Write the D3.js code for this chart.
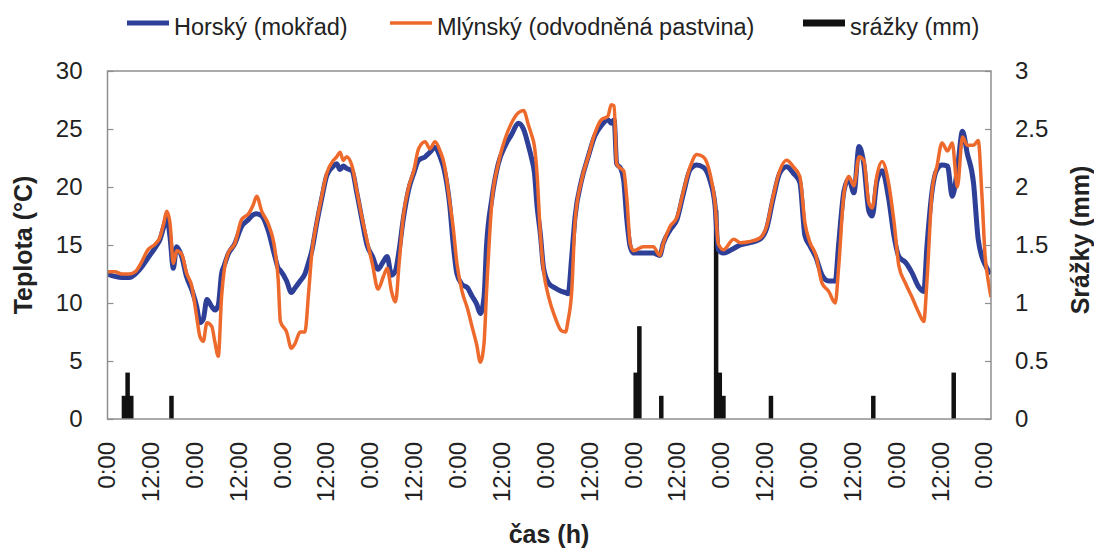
<!DOCTYPE html>
<html>
<head>
<meta charset="utf-8">
<script src="https://cdn.jsdelivr.net/npm/d3@7"></script>
<style>
  body { margin: 0; background: #fff; }
  svg { display: block; font-family: "Liberation Sans", Arial, sans-serif; }
</style>
</head>
<body>
<svg id="chart"></svg>
<script>
// time in hours from the first midnight
var hours = [0, 2, 4, 6, 7.6, 9.1, 11.1, 13.1, 14.4, 15.4,
  16.2, 17.1, 18, 18.9, 20.3, 21.6, 23.1, 24.4, 25.3, 26.2,
  27.2, 28.5, 29.4, 30.3, 31.2, 32, 33, 34.8, 36.7, 38.6,
  39.8, 40.8, 42.2, 44, 45.8, 46.7, 47.3, 49, 50.3, 51.3,
  52.7, 54, 55, 55.9, 57.2, 58.6, 60, 61.8, 62.7, 63.6,
  64.5, 65.4, 66.9, 68.2, 69.6, 71, 72.5, 74, 75.5, 76.5,
  77.7, 78.8, 79.8, 80.9, 82.4, 83.8, 85.1, 86.9, 88.2, 89.6,
  91, 92.1, 93.6, 94.6, 95.6, 97, 98.5, 99.7, 101, 102,
  103, 103.7, 105.1, 106.9, 108.7, 110.5, 112.4, 113.8, 115.2, 116,
  116.8, 117.5, 118.4, 119.3, 120.7, 122.4, 124.2, 125.3, 126, 127,
  127.9, 129.7, 131.5, 133.3, 135.1, 136.9, 137.8, 138.6, 139.3, 140.4,
  141.2, 142.1, 143, 143.9, 146.6, 149.3, 151.1, 152, 153.9, 155.8,
  157.6, 159.4, 161.2, 163, 164.8, 166.2, 167.1, 168.5, 171.3, 173.1,
  175.8, 178.5, 180.3, 182.1, 183.9, 185.8, 187.6, 189.4, 190.8, 192.2,
  193.7, 195.5, 197.3, 199.1, 200, 201.5, 202.8, 204.2, 205.6, 206.9,
  208.3, 209.2, 210.5, 211.9, 213.7, 215.2, 216.5, 218.3, 220.1, 221.9,
  223.3, 224.2, 225.6, 226.9, 228.3, 229.8, 231.1, 232.5, 233.9, 235.2,
  236.9, 238.2, 239.2, 240.1, 240.9, 241.7];

// Horský (mokřad), °C
var horsky = [12.5, 12.3, 12.2, 12.2, 12.5, 13.0, 13.9, 14.8, 15.5, 16.6,
  17.3, 15.7, 13.0, 14.85, 14.0, 12.3, 11.1, 9.7, 8.3, 8.6,
  10.3, 9.7, 9.4, 9.8, 12.5, 13.3, 14.2, 15.1, 16.6, 17.2,
  17.6, 17.7, 17.5, 16.2, 14.0, 13.0, 12.8, 11.9, 10.9, 11.3,
  11.9, 12.5, 13.5, 14.5, 16.8, 19.0, 21.0, 21.8, 22.0, 21.5,
  21.8, 21.6, 21.4, 19.5, 17.2, 15.0, 14.0, 12.9, 13.6, 14.0,
  12.4, 12.8, 14.6, 17.2, 19.8, 21.2, 22.3, 22.6, 23.0, 23.4,
  22.6, 21.5, 18.5, 15.0, 12.5, 11.6, 11.3, 10.6, 9.9, 9.1,
  10.5, 15.0, 18.9, 22.0, 23.5, 24.5, 25.5, 25.0, 23.5, 22.5,
  21.2, 18.4, 16.0, 13.0, 11.7, 11.3, 11.0, 10.9, 10.8, 14.0,
  17.4, 20.6, 22.6, 24.4, 25.3, 25.8, 25.5, 25.8, 22.0, 21.6,
  20.6, 17.1, 14.85, 14.3, 14.3, 14.3, 14.1, 15.1, 16.3, 17.2,
  19.5, 21.5, 21.9, 21.7, 20.6, 18.4, 14.6, 14.3, 14.7, 15.0,
  15.2, 15.5, 16.4, 19.0, 21.2, 21.75, 21.2, 20.4, 15.8, 14.9,
  14.0, 12.4, 11.9, 11.9, 15.0, 19.7, 20.7, 19.5, 23.5, 22.0,
  17.9, 17.5, 20.5, 21.4, 19.0, 15.7, 14.0, 13.5, 12.6, 11.4,
  11.0, 15.0, 19.7, 21.5, 21.9, 21.8, 19.2, 21.5, 24.8, 22.9,
  20.4, 15.5, 14.0, 13.3, 12.8, 12.6];

// Mlýnský (odvodněná pastvina), °C
var mlynsky = [12.7, 12.7, 12.5, 12.5, 12.7, 13.4, 14.6, 15.1, 15.7, 16.9,
  17.9, 16.9, 13.4, 14.5, 14.2, 12.6, 11.4, 8.8, 7.1, 6.7,
  8.3, 8.0, 6.6, 5.4, 10.5, 13.0, 14.3, 15.1, 17.2, 17.7,
  18.4, 19.2, 17.9, 16.8, 14.6, 12.0, 8.4, 7.5, 6.1, 6.5,
  7.5, 7.5, 10.8, 14.3, 16.9, 19.2, 21.2, 22.3, 22.6, 23.0,
  22.3, 22.6, 21.8, 19.7, 17.4, 15.4, 13.3, 11.2, 12.3, 13.0,
  11.0, 10.1, 13.5, 17.4, 20.0, 21.4, 23.3, 23.9, 23.3, 23.9,
  23.1, 22.0, 18.8, 16.4, 13.4, 11.0, 9.5, 8.0, 6.4, 4.9,
  6.5, 11.0, 18.5, 22.0, 24.1, 25.5, 26.4, 26.6, 25.3, 24.5,
  23.5, 21.2, 16.0, 12.8, 10.5, 8.8, 7.6, 7.5, 8.5, 11.0,
  17.0, 20.6, 22.6, 24.6, 25.8, 26.1, 27.1, 27.0, 22.0, 21.6,
  21.4, 18.9, 15.1, 14.5, 14.85, 14.85, 14.1, 15.1, 16.6, 17.4,
  19.7, 21.75, 22.8, 22.6, 21.2, 18.6, 15.1, 14.6, 15.5, 15.2,
  15.3, 15.6, 16.6, 19.2, 21.4, 22.3, 21.75, 20.9, 16.9, 15.2,
  14.2, 11.7, 11.0, 10.0, 13.0, 19.5, 20.9, 20.1, 22.6, 22.3,
  18.6, 18.2, 21.0, 22.2, 20.3, 16.9, 13.2, 11.7, 10.5, 9.2,
  8.4, 12.0, 19.7, 21.75, 23.8, 23.1, 23.8, 20.0, 24.3, 23.6,
  23.6, 24.0, 19.4, 14.0, 12.0, 10.5];

// srážky (mm), hourly totals
var rainHours = [4, 5, 6, 17, 144, 145, 151, 166, 167, 168, 181, 209, 231];
var rainMm = [0.2, 0.4, 0.2, 0.2, 0.4, 0.8, 0.2, 1.8, 0.4, 0.2, 0.2, 0.2, 0.4];

var tickHours = d3.range(0, 241, 12);
var seriesNames = ["Horský (mokřad)", "Mlýnský (odvodněná pastvina)", "srážky (mm)"];
var seriesColors = ["#2e3f98", "#ee6a2c", "#111111"];

var width = 1094, height = 550;
var plot = { left: 107.5, right: 991, top: 71, bottom: 419 };

var svg = d3.select("#chart").attr("width", width).attr("height", height);
svg.append("rect").attr("width", width).attr("height", height).attr("fill", "#fff");

var x = d3.scaleLinear().domain([0, 241.7]).range([plot.left, plot.right]);
var y = d3.scaleLinear().domain([0, 30]).range([plot.bottom, plot.top]);
var yR = d3.scaleLinear().domain([0, 3]).range([plot.bottom, plot.top]);

svg.append("clipPath").attr("id", "clip")
  .append("rect")
  .attr("x", plot.left).attr("y", plot.top)
  .attr("width", plot.right - plot.left).attr("height", plot.bottom - plot.top);

// rain bars
var barW = 4.5;
svg.append("g").selectAll("rect")
  .data(rainHours.map(function(h, i) { return { h: h, v: rainMm[i] }; }))
  .enter().append("rect")
  .attr("x", function(d) { return x(d.h + 0.5) - barW / 2; })
  .attr("y", function(d) { return yR(d.v); })
  .attr("width", barW)
  .attr("height", function(d) { return yR(0) - yR(d.v); })
  .attr("fill", seriesColors[2]);

// temperature lines
var line = d3.line()
  .curve(d3.curveMonotoneX)
  .x(function(d) { return x(d[0]); })
  .y(function(d) { return y(d[1]); });

var g = svg.append("g").attr("clip-path", "url(#clip)");
g.append("path")
  .datum(hours.map(function(h, i) { return [h, horsky[i]]; }))
  .attr("d", line)
  .attr("fill", "none")
  .attr("stroke", seriesColors[0])
  .attr("stroke-width", 5)
  .attr("stroke-linejoin", "round");
g.append("path")
  .datum(hours.map(function(h, i) { return [h, mlynsky[i]]; }))
  .attr("d", line)
  .attr("fill", "none")
  .attr("stroke", seriesColors[1])
  .attr("stroke-width", 3.5)
  .attr("stroke-linejoin", "round");

// frame
svg.append("rect")
  .attr("x", plot.left).attr("y", plot.top)
  .attr("width", plot.right - plot.left).attr("height", plot.bottom - plot.top)
  .attr("fill", "none").attr("stroke", "#8f8f8f").attr("stroke-width", 1.5);

// axes
var leftAxis = svg.append("g")
  .attr("transform", "translate(" + plot.left + ",0)")
  .call(d3.axisLeft(y).tickValues(d3.range(0, 31, 5)).tickSize(-6).tickPadding(25));
var rightAxis = svg.append("g")
  .attr("transform", "translate(" + plot.right + ",0)")
  .call(d3.axisRight(yR).tickValues(d3.range(0, 3.01, 0.5))
    .tickFormat(function(d) { return String(+d.toFixed(1)); })
    .tickSize(-6).tickPadding(24));

[leftAxis, rightAxis].forEach(function(a) {
  a.select(".domain").remove();
  a.selectAll("line").attr("stroke", "#8f8f8f").attr("stroke-width", 1.2);
  a.selectAll("text").attr("font-size", 24).attr("fill", "#222")
    .attr("font-family", "Liberation Sans, Arial, sans-serif");
});

// x tick labels (rotated)
svg.append("g").selectAll("text")
  .data(tickHours)
  .enter().append("text")
  .attr("transform", function(d) { return "translate(" + (x(d) - 1) + ",442) rotate(-90)"; })
  .attr("text-anchor", "end")
  .attr("dy", "0.36em")
  .attr("font-size", 24)
  .attr("fill", "#222")
  .text(function(d) { return d % 24 === 0 ? "0:00" : "12:00"; });

// axis titles
svg.append("text")
  .attr("transform", "translate(32,245) rotate(-90)")
  .attr("text-anchor", "middle")
  .attr("font-size", 25).attr("font-weight", "bold").attr("fill", "#222")
  .text("Teplota (°C)");
svg.append("text")
  .attr("transform", "translate(1089,240) rotate(-90)")
  .attr("text-anchor", "middle")
  .attr("font-size", 25).attr("font-weight", "bold").attr("fill", "#222")
  .text("Srážky (mm)");
svg.append("text")
  .attr("x", 549).attr("y", 543)
  .attr("text-anchor", "middle")
  .attr("font-size", 25).attr("font-weight", "bold").attr("fill", "#222")
  .text("čas (h)");

// legend
var legendX = [127, 390, 803];
var legend = svg.append("g").selectAll("g")
  .data(seriesNames)
  .enter().append("g")
  .attr("transform", function(d, i) { return "translate(" + legendX[i] + ",23)"; });
legend.append("rect")
  .attr("x", 0)
  .attr("y", function(d, i) { return i === 0 ? -2.5 : (i === 1 ? -1.75 : -3.5); })
  .attr("width", 42)
  .attr("height", function(d, i) { return i === 0 ? 5 : (i === 1 ? 3.5 : 7); })
  .attr("fill", function(d, i) { return seriesColors[i]; });
legend.append("text")
  .attr("x", 47).attr("y", 12)
  .attr("font-size", 23.5).attr("fill", "#222")
  .text(function(d) { return d; });
</script>
</body>
</html>
